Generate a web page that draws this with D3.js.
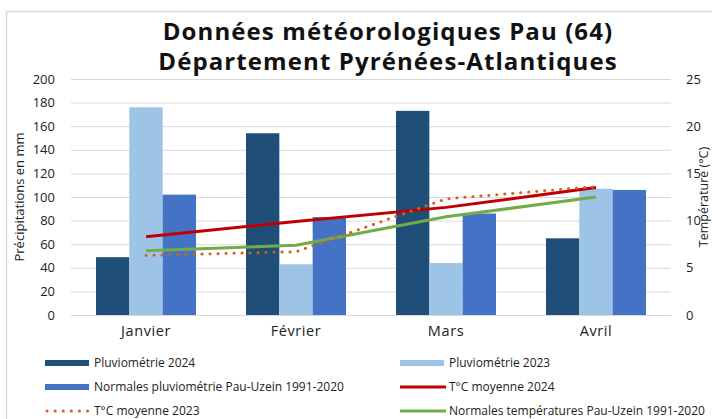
<!DOCTYPE html>
<html><head><meta charset="utf-8">
<script src="https://cdn.jsdelivr.net/npm/d3@7"></script>
<style>
html,body{margin:0;padding:0;background:#fff;overflow:hidden}
svg{display:block;font-family:"Open Sans",sans-serif}
</style></head>
<body><svg id="c" width="712" height="419"></svg>
<script>
const months = ["Janvier","Février","Mars","Avril"];
const pluvio2024 = [49,154,173,65];
const pluvio2023 = [176,43,44,107];
const pluvioNormales = [102,83,86,106];
const temp2024 = [8.3,9.9,11.4,13.5];
const temp2023 = [6.3,6.7,12.3,13.6];
const tempNormales = [6.8,7.4,10.4,12.5];
const leftTicks = [0,20,40,60,80,100,120,140,160,180,200];
const rightTicks = [0,5,10,15,20,25];
const titleLines = ["Données météorologiques Pau (64)","Département Pyrénées-Atlantiques"];

const svg = d3.select("#c");
const L = 71, R = 671, T = 79, B = 315;

// frame
svg.append("path").attr("d","M6.5,419 V11.5 H712").attr("fill","none").attr("stroke","#d9d9d9").attr("stroke-width",1.5);

const x = d3.scaleBand().domain(months).range([L,R]).paddingInner(1/3).paddingOuter(1/6);
const xs = d3.scaleBand().domain([0,1,2]).range([0,x.bandwidth()]);
const yL = d3.scaleLinear().domain([0,200]).range([B,T]);
const yR = d3.scaleLinear().domain([0,25]).range([B,T]);
const xc = m => x(m)+x.bandwidth()/2;

// gridlines
const gAxisL = svg.append("g").attr("transform",`translate(${L},0)`)
  .call(d3.axisLeft(yL).tickValues(leftTicks).tickSize(-(R-L)).tickPadding(16));
gAxisL.select(".domain").remove();
gAxisL.selectAll(".tick line").attr("stroke","#d9d9d9").attr("stroke-width",1);
gAxisL.selectAll(".tick text").attr("font-size",13).attr("fill","#222").attr("font-family","Open Sans");

const gAxisR = svg.append("g").attr("transform",`translate(${R},0)`)
  .call(d3.axisRight(yR).tickValues(rightTicks).tickSize(0).tickPadding(15));
gAxisR.select(".domain").remove();
gAxisR.selectAll(".tick text").attr("font-size",13).attr("fill","#222").attr("font-family","Open Sans");

// bars
const series = [
  {vals:pluvio2024, color:"#1f4e79"},
  {vals:pluvio2023, color:"#9dc3e6"},
  {vals:pluvioNormales, color:"#4472c4"}
];
series.forEach((s,i)=>{
  svg.append("g").selectAll("rect").data(months).join("rect")
    .attr("x",m=>x(m)+xs(i)).attr("width",xs.bandwidth())
    .attr("y",(m,j)=>yL(s.vals[j])).attr("height",(m,j)=>B-yL(s.vals[j]))
    .attr("fill",s.color);
});

// x labels
const gX = svg.append("g").attr("transform",`translate(0,${B})`)
  .call(d3.axisBottom(x).tickSize(0).tickPadding(11));
gX.select(".domain").attr("stroke","#d9d9d9");
gX.selectAll(".tick text").attr("font-size",14.5).attr("letter-spacing",0.6).attr("fill","#222").attr("font-family","Open Sans");

// lines
const line = d3.line().x((d,i)=>xc(months[i])).y(d=>yR(d));
svg.append("path").datum(tempNormales).attr("d",line).attr("fill","none").attr("stroke","#70ad47").attr("stroke-width",3);
svg.append("path").datum(temp2024).attr("d",line).attr("fill","none").attr("stroke","#c00000").attr("stroke-width",3);
svg.append("path").datum(temp2023).attr("d",line).attr("fill","none").attr("stroke","#d0601a").attr("stroke-width",3)
  .attr("stroke-dasharray","0.1 7.9").attr("stroke-linecap","round");

// title
svg.append("text").attr("text-anchor","middle").attr("font-weight","bold").attr("font-size",24)
  .attr("letter-spacing",1.1).attr("font-family","Open Sans").attr("fill","#111")
  .selectAll("tspan").data(titleLines).join("tspan").attr("x",388).attr("y",(d,i)=>39.5+i*30).text(d=>d);

// axis titles
svg.append("text").attr("transform",`translate(24,${(T+B)/2}) rotate(-90)`).attr("text-anchor","middle")
  .attr("font-size",13).attr("fill","#222").text("Précipitations en mm");
svg.append("text").attr("transform",`translate(708,${(T+B)/2}) rotate(-90)`).attr("text-anchor","middle")
  .attr("font-size",12.5).attr("fill","#222").text("Température (°C)");

// legend
const legend = [
  {name:"Pluviométrie 2024", type:"bar", color:"#1f4e79"},
  {name:"Pluviométrie 2023", type:"bar", color:"#9dc3e6"},
  {name:"Normales pluviométrie Pau-Uzein 1991-2020", type:"bar", color:"#4472c4"},
  {name:"T°C moyenne 2024", type:"line", color:"#c00000"},
  {name:"T°C moyenne 2023", type:"dot", color:"#d0601a"},
  {name:"Normales températures Pau-Uzein 1991-2020", type:"line", color:"#70ad47"}
];
const lg = svg.append("g").selectAll("g").data(legend).join("g")
  .attr("transform",(d,i)=>`translate(${i%2===0?45:400},${363+Math.floor(i/2)*24})`);
lg.each(function(d){
  const g = d3.select(this);
  if(d.type==="bar") g.append("rect").attr("x",0).attr("y",-3).attr("width",44).attr("height",6).attr("fill",d.color);
  else if(d.type==="line") g.append("line").attr("x1",0).attr("x2",46).attr("stroke",d.color).attr("stroke-width",3);
  else g.append("line").attr("x1",2).attr("x2",44).attr("stroke",d.color).attr("stroke-width",3)
    .attr("stroke-dasharray","0.1 8").attr("stroke-linecap","round");
  g.append("text").attr("x",49).attr("y",4).attr("font-size",12).attr("fill","#222").text(d.name);
});
</script></body></html>
